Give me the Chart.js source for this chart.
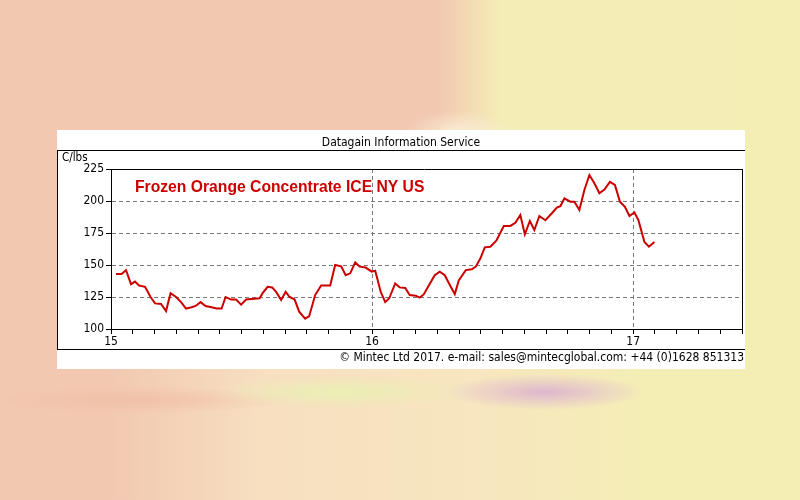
<!DOCTYPE html>
<html>
<head>
<meta charset="utf-8">
<script src="https://cdn.jsdelivr.net/npm/chart.js@4"></script>
<style>
  html, body { margin: 0; padding: 0; }
  body {
    width: 800px; height: 500px; overflow: hidden;
    background:
      radial-gradient(ellipse 55px 22px at 460px 132px, rgba(250,238,214,0.95), rgba(250,238,214,0) 100%),
      radial-gradient(ellipse 100px 18px at 545px 392px, rgba(220,180,208,0.95), rgba(220,180,208,0) 100%),
      radial-gradient(ellipse 130px 16px at 340px 392px, rgba(234,240,180,0.95), rgba(234,240,180,0) 100%),
      radial-gradient(ellipse 150px 14px at 140px 400px, rgba(240,190,165,0.8), rgba(240,190,165,0) 100%),
      linear-gradient(to right, #f2c8b1 0px, #f2c8b1 110px, #f7dfc0 260px, #f7e6bf 480px, #f4eeb5 650px) 0 368px / 800px 132px no-repeat,
      linear-gradient(to right, #f2c8b1 0px, #f2c8b1 440px, #f4edb5 500px, #f4eeb5 800px);
  }
  #wrap { position: absolute; left: 0; top: 0; width: 800px; height: 500px; }
</style>
</head>
<body>
<div id="wrap"><canvas id="orangeChart" width="800" height="500"></canvas></div>
<script>
// weeks since start of 2015 and price in US cents per lb
const weeks = [1.0, 2.1, 3.0, 4.0, 4.8, 5.6, 6.8, 7.9, 8.8, 10.0, 11.0, 11.9, 13.0, 14.0, 15.0,
  16.1, 16.9, 17.9, 18.9, 20.1, 21.1, 22.1, 22.9, 24.0, 25.0, 26.0, 27.0, 29.7, 30.3, 31.3,
  32.2, 33.0, 34.0, 34.9, 35.7, 36.7, 37.6, 38.8, 39.6, 40.8, 42.0, 43.8, 44.8, 46.0, 46.9,
  47.8, 48.8, 49.7, 50.9, 52.1, 52.8, 53.3, 53.9, 54.8, 55.6, 56.8, 57.7, 58.8, 59.7, 60.9,
  61.7, 62.5, 63.5, 64.7, 65.7, 66.7, 67.9, 68.7, 69.5, 70.9, 72.1, 72.9, 73.8, 74.7, 75.8,
  77.0, 78.5, 79.8, 80.8, 81.8, 82.7, 83.7, 84.6, 85.6, 86.8, 88.1, 89.1, 89.8, 90.6, 91.8,
  92.6, 93.6, 94.6, 95.6, 96.6, 97.6, 98.6, 99.7, 100.7, 101.7, 102.7, 103.6, 104.6, 105.4,
  106.6, 107.5, 108.6];
const prices = [143, 143, 146, 135, 137, 134, 133, 125, 120, 119.5, 114, 128, 125, 121, 116,
  117, 118, 121, 118, 117, 116, 116, 125, 123, 123, 119, 123, 124, 128, 133,
  132.5, 129, 122.6, 129, 125, 123, 113.5, 108, 110, 126.5, 134, 134, 150, 149, 142,
  143.5, 152, 148.7, 148, 144.8, 145.5, 138, 129, 121, 124, 135.6, 132.5, 132, 126.5, 126,
  124.5, 127, 134, 142, 144.8, 142, 133, 127.3, 138, 146, 146.6, 148.7, 155, 163.8, 164.3,
  169, 180.5, 180.5, 183, 189, 174, 184.4, 177.3, 188.3, 185, 190.4, 194.8, 196, 202, 199.5,
  199.5, 193, 208.6, 220.3, 213.8, 206, 209, 215, 212.5, 199.5, 195.5, 188.3, 191, 185,
  168, 164.3, 168];

const yearLabels = ['15', '16', '17'];
const yTicks = [100, 125, 150, 175, 200, 225];
const monthsShown = 29;
const weeksPerMonth = 52.1786 / 12;

const chartTitle = 'Frozen Orange Concentrate ICE NY US';
const topTitle = 'Datagain Information Service';
const unitLabel = 'C/lbs';
const footer = '\u00A9 Mintec Ltd 2017. e-mail: sales@mintecglobal.com: +44 (0)1628 851313';

const points = weeks.map((w, i) => ({ x: w, y: prices[i] }));
const fontFamily = '"DejaVu Sans Condensed", "Liberation Sans", Arial, sans-serif';

const frame = {
  id: 'frame',
  beforeDraw(chart) {
    const c = chart.ctx;
    c.save();
    c.fillStyle = '#ffffff';
    c.fillRect(57, 130, 688, 239);
    c.strokeStyle = '#000000';
    c.lineWidth = 1;
    c.beginPath();
    c.moveTo(57, 150.5); c.lineTo(745, 150.5);
    c.moveTo(57.5, 150); c.lineTo(57.5, 349);
    c.moveTo(57, 349.5); c.lineTo(745, 349.5);
    c.stroke();
    c.fillStyle = '#000000';
    c.font = '12px ' + fontFamily;
    c.textAlign = 'center';
    c.textBaseline = 'middle';
    c.fillText(topTitle, 401, 143);
    c.font = '11.5px ' + fontFamily;
    c.textAlign = 'left';
    c.fillText(unitLabel, 62, 158);
    c.textAlign = 'right';
    c.font = '12px ' + fontFamily;
    c.fillText(footer, 744, 358);
    c.restore();
  },
  afterDraw(chart) {
    const c = chart.ctx;
    const a = chart.chartArea;
    c.save();
    c.strokeStyle = '#000000';
    c.lineWidth = 1;
    c.beginPath();
    c.moveTo(a.left - 5, Math.round(a.top) + 0.5); c.lineTo(a.right + 1, Math.round(a.top) + 0.5);
    c.moveTo(Math.round(a.right) + 0.5, a.top); c.lineTo(Math.round(a.right) + 0.5, a.bottom);
    c.stroke();
    c.fillStyle = '#cc0000';
    c.font = 'bold 15.7px "Liberation Sans", Arial, sans-serif';
    c.textAlign = 'left';
    c.textBaseline = 'middle';
    c.fillText(chartTitle, 135, 188);
    c.restore();
  }
};

new Chart(document.getElementById('orangeChart').getContext('2d'), {
  type: 'line',
  data: {
    datasets: [{
      data: points,
      borderColor: '#cc0000',
      borderWidth: 2,
      pointRadius: 0,
      tension: 0,
      fill: false
    }]
  },
  options: {
    responsive: false,
    animation: false,
    layout: { padding: { left: 57, right: 58, top: 169, bottom: 151 } },
    plugins: { legend: { display: false }, tooltip: { enabled: false } },
    scales: {
      x: {
        type: 'linear',
        min: 0,
        max: monthsShown * weeksPerMonth,
        afterBuildTicks(scale) {
          const t = [];
          for (let m = 0; m <= monthsShown; m++) t.push({ value: m * weeksPerMonth });
          scale.ticks = t;
        },
        afterFit(scale) { scale.height = 20; },
        ticks: {
          autoSkip: false,
          maxRotation: 0,
          padding: 1,
          color: '#000000',
          font: { size: 12, family: fontFamily },
          callback(value, index) {
            return index % 12 === 0 ? yearLabels[index / 12] : '';
          }
        },
        grid: {
          tickLength: 5,
          tickColor: '#000000',
          color(ctx) {
            const i = ctx.index;
            return (i % 12 === 0 && i > 0) ? '#7a7a7a' : 'rgba(0,0,0,0)';
          }
        },
        border: { color: '#000000', width: 1, dash: [4, 3] }
      },
      y: {
        min: 100,
        max: 225,
        afterBuildTicks(scale) {
          scale.ticks = yTicks.map(v => ({ value: v }));
        },
        afterFit(scale) { scale.width = 54; },
        ticks: {
          padding: 2,
          color: '#000000',
          font: { size: 12, family: fontFamily }
        },
        grid: {
          tickLength: 5,
          tickColor: '#000000',
          color(ctx) {
            const v = ctx.tick && ctx.tick.value;
            return (v === 100 || v === 225) ? 'rgba(0,0,0,0)' : '#7a7a7a';
          }
        },
        border: { color: '#000000', width: 1, dash: [4, 3] }
      }
    }
  },
  plugins: [frame]
});
</script>
</body>
</html>
